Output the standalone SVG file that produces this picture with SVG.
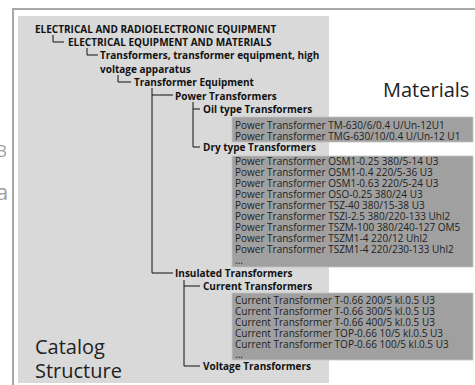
<svg xmlns="http://www.w3.org/2000/svg" width="475" height="385" viewBox="0 0 475 385">
<style>
.t{font-family:"Open Sans","Liberation Sans",sans-serif;font-weight:bold;font-size:10px;fill:#111}
.m{font-family:"Open Sans","Liberation Sans",sans-serif;font-size:10px;fill:#222}
.big{font-family:"Open Sans","Liberation Sans",sans-serif;font-size:20px;fill:#222}
.frag{font-family:"Open Sans","Liberation Sans",sans-serif;fill:#a0a0a0}
.box{fill:#a0a0a0;stroke:#c4c4c4;stroke-width:0.8}
.c{fill:none;stroke:#111;stroke-width:1}
</style>
<rect width="475" height="385" fill="#ffffff"/>
<text class="frag" x="-4" y="157" font-size="17">В</text>
<text class="frag" x="-4" y="200" font-size="22">а</text>
<rect x="13" y="9" width="475" height="390" fill="none" stroke="#a8a8a8" stroke-width="2"/>
<rect x="18" y="16" width="311" height="367" fill="#d9d9d9"/>
<g id="title-materials"><text class="big" x="383" y="97">Materials</text></g>
<g id="title-catalog"><text class="big" x="35" y="354">Catalog</text><text class="big" x="35" y="378">Structure</text></g>
<g id="connectors">
<path class="c" d="M53 35V42H64"/>
<path class="c" d="M87 48V55H98"/>
<path class="c" d="M118 75V82H131"/>
<path class="c" d="M152 88V273H173M152 95H173"/>
<path class="c" d="M193 102V147H200M193 109H200"/>
<path class="c" d="M184 280V366H200M184 286H200"/>
</g>
<g id="n1"><text class="t" x="35" y="32.5">ELECTRICAL AND RADIOELECTRONIC EQUIPMENT</text></g>
<g id="n2"><text class="t" x="68" y="46">ELECTRICAL EQUIPMENT AND MATERIALS</text></g>
<g id="n3"><text class="t" x="100" y="59">Transformers, transformer equipment, high</text><text class="t" x="100" y="72.5">voltage apparatus</text></g>
<g id="n4"><text class="t" x="134" y="86">Transformer Equipment</text></g>
<g id="n5"><text class="t" x="175" y="99.5">Power Transformers</text></g>
<g id="n6"><text class="t" x="203" y="113">Oil type Transformers</text></g>
<g id="m1">
<rect class="box" x="232" y="117" width="241" height="25"/>
<text class="m" x="235" y="128.5">Power Transformer TM-630/6/0.4 U/Un-12U1</text>
<text class="m" x="235" y="140">Power Transformer TMG-630/10/0.4 U/Un-12 U1</text>
</g>
<g id="n7"><text class="t" x="203" y="151">Dry type Transformers</text></g>
<g id="m2">
<rect class="box" x="232" y="156" width="241" height="111"/>
<text class="m" x="235" y="165">Power Transformer OSM1-0.25 380/5-14 U3</text>
<text class="m" x="235" y="176">Power Transformer OSM1-0.4 220/5-36 U3</text>
<text class="m" x="235" y="187">Power Transformer OSM1-0.63 220/5-24 U3</text>
<text class="m" x="235" y="198">Power Transformer OSO-0.25 380/24 U3</text>
<text class="m" x="235" y="209">Power Transformer TSZ-40 380/15-38 U3</text>
<text class="m" x="235" y="220">Power Transformer TSZI-2.5 380/220-133 Uhl2</text>
<text class="m" x="235" y="231">Power Transformer TSZM-100 380/240-127 OM5</text>
<text class="m" x="235" y="242">Power Transformer TSZM1-4 220/12 Uhl2</text>
<text class="m" x="235" y="253">Power Transformer TSZM1-4 220/230-133 Uhl2</text>
<text class="m" x="235" y="264">...</text>
</g>
<g id="n8"><text class="t" x="175" y="277">Insulated Transformers</text></g>
<g id="n9"><text class="t" x="203" y="290">Current Transformers</text></g>
<g id="m3">
<rect class="box" x="232" y="293" width="241" height="67"/>
<text class="m" x="235" y="304">Current Transformer T-0.66 200/5 kl.0.5 U3</text>
<text class="m" x="235" y="315">Current Transformer T-0.66 300/5 kl.0.5 U3</text>
<text class="m" x="235" y="326">Current Transformer T-0.66 400/5 kl.0.5 U3</text>
<text class="m" x="235" y="337">Current Transformer TOP-0.66 10/5 kl.0.5 U3</text>
<text class="m" x="235" y="348">Current Transformer TOP-0.66 100/5 kl.0.5 U3</text>
<text class="m" x="235" y="358">...</text>
</g>
<g id="n10"><text class="t" x="203" y="370">Voltage Transformers</text></g>
</svg>
